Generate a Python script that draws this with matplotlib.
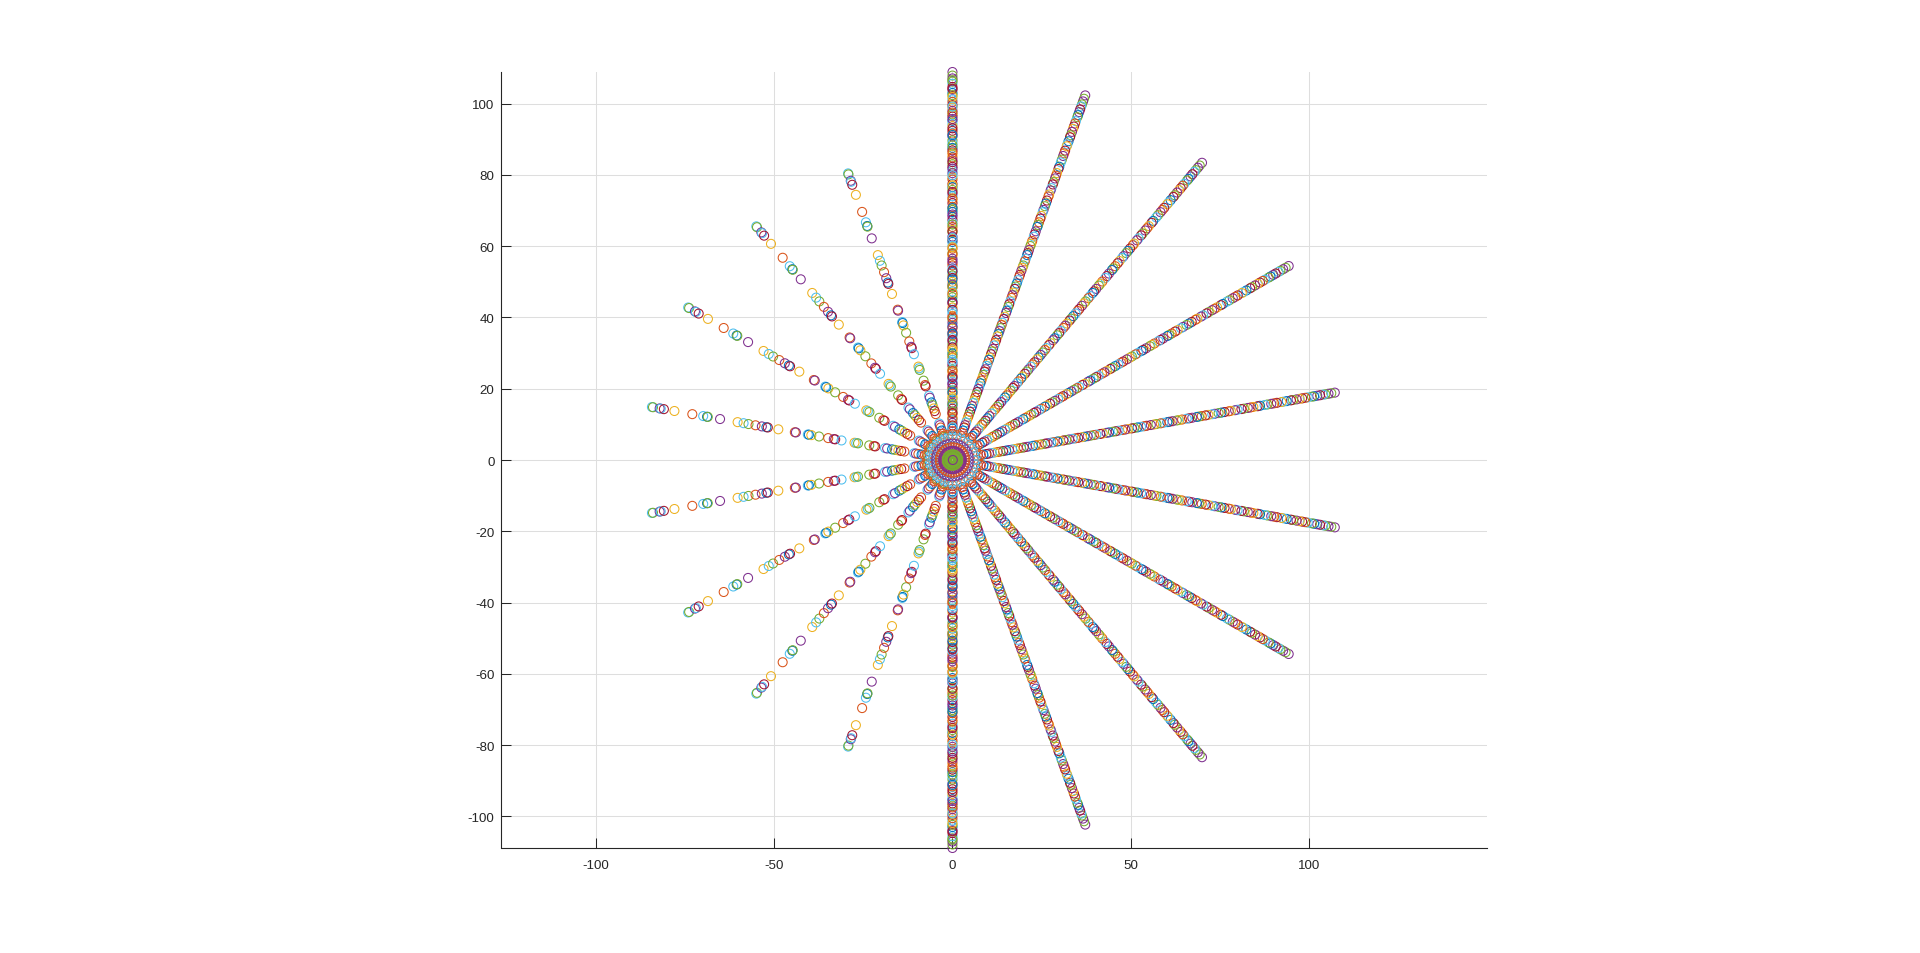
import numpy as np
import matplotlib
matplotlib.use("Agg")
import matplotlib.pyplot as plt

plt.rcParams['font.family'] = ['Liberation Sans', 'DejaVu Sans']
plt.rcParams['axes.unicode_minus'] = False

palette = ['#0072BD', '#D95319', '#EDB120', '#7E2F8E', '#77AC30', '#4DBEEE', '#A2142F']

right_angles = [10, 30, 50, 70, -10, -30, -50, -70]
left_angles = [110, 130, 150, 170, 190, 210, 230, 250]
vertical_angles = [90, -90]
hub_angles = [0, 10, 20, 30, 40, 50, 60, 70, 80, 90, 100, 110, 120, 130, 140, 150, 160, 170,
              180, 190, 200, 210, 220, 230, 240, 250, 260, 270, 280, 290, 300, 310, 320, 330, 340, 350]

left_radii = [85.6, 85.3, 83.4, 83.1, 82.2, 79.2, 74.1, 71.0, 69.9, 69.7, 66.2, 61.2, 59.5, 58.1,
              56.1, 54.3, 53.0, 52.6, 49.6, 44.9, 44.6, 41.2, 40.9, 40.2, 38.0, 35.4, 33.8, 33.4,
              31.6, 27.9, 27.4, 26.9, 23.7, 22.4, 22.0, 19.2, 18.6, 17.2, 16.4, 15.4, 14.6, 13.7,
              10.9, 10.4, 9.7, 8.8, 7.8, 6.9, 5.5]
left_colors = [5, 4, 3, 5, 6, 2, 1, 5, 0, 4, 3, 2, 5, 4,
               1, 3, 0, 6, 2, 1, 3, 5, 0, 2, 4, 1, 3, 6,
               5, 2, 5, 4, 4, 1, 6, 5, 3, 0, 4, 2, 6, 1,
               5, 3, 1, 0, 1, 4, 5]

right_radii = [108.9, 107.9, 107.1, 106.2, 105.6, 104.7, 103.9, 103.0, 102.4, 101.2, 100.5, 99.6,
               98.9, 98.0, 97.0, 96.4, 95.2, 94.3, 93.7, 92.4, 91.6, 90.8, 89.7, 88.9, 87.6, 86.9,
               85.7, 84.9, 84.1, 83.0, 82.3, 81.2, 80.5, 79.3, 78.7, 77.5, 76.6, 75.8, 74.7, 74.0,
               72.9, 72.1, 71.0, 70.2, 69.6, 68.3, 67.4, 66.7, 65.4, 64.6, 63.9, 62.7, 61.8, 61.2,
               60.1, 59.3, 58.1, 57.4, 56.5, 55.3, 54.6, 53.7, 52.7, 51.8, 51.1, 50.0, 49.2, 48.4,
               47.3, 46.5, 45.7, 44.6, 43.9, 42.8, 42.1, 41.0, 40.3, 39.4, 38.5, 37.6, 36.9, 35.8,
               35.0, 34.2, 33.2, 32.4, 31.6, 30.6, 29.9, 28.8, 28.1, 27.1, 26.4, 25.4, 24.6, 23.7,
               22.9, 22.0, 21.2, 20.3, 19.5, 18.6, 17.7, 17.0, 16.1, 15.3, 14.4, 13.6, 12.9, 12.0,
               11.2, 10.4, 9.7, 8.8, 8.1]
right_colors = [3, 4, 3, 4, 5, 6, 3, 0, 4, 5, 1, 6, 2, 3, 4, 6, 0, 5, 2, 6, 1, 3, 4, 5, 0, 6,
                2, 1, 3, 4, 6, 5, 3, 2, 1, 6, 0, 4, 3, 5, 2, 6, 1, 4, 0, 3, 6, 5, 1, 2,
                4, 3, 6, 0, 5, 1, 4, 2, 3, 6, 1, 5, 0, 4, 6, 2, 3, 1, 5, 6, 4, 0, 3, 2,
                6, 5, 1, 4, 3, 0, 2, 6, 1, 5, 3, 4, 6, 2, 0, 1, 5, 3, 6, 4, 2, 1, 0, 5,
                3, 6, 4, 1, 2, 5, 3, 0, 6, 4, 1, 2, 5, 3, 6, 0, 1]

vertical_radii = [106.6, 104.2, 101.9, 99.2, 97.5, 95.7, 93.1, 91.2, 88.3, 86.3, 83.6, 81.8, 79.9,
                  77.1, 75.2, 73.4, 70.7, 68.9, 66.1, 64.2, 62.3, 59.7, 57.8, 55.9, 53.1, 50.7,
                  48.8, 46.9, 44.2, 41.7, 39.9, 37.2, 35.4, 33.7, 31.1, 29.4, 27.6, 25.0, 23.3,
                  21.5, 19.0, 17.3, 15.7, 13.2, 11.6, 9.2]
vertical_colors = [4, 6, 2, 5, 1, 3, 6, 0, 4, 1, 6, 3, 5, 2, 6, 1, 0, 3, 4, 6, 5, 2, 1, 3, 6, 0,
                   4, 2, 6, 5, 1, 3, 0, 6, 2, 4, 5, 1, 6, 3, 0, 2, 4, 6, 1, 5]

hub_radii = [7.2, 6.2, 4.6, 3.6, 2.6, 1.6, 0.8]
hub_colors = [1, 5, 3, 1, 3, 4, 4]
center_radius = [0.1]
center_color = [3]

x_ticks = [-100, -50, 0, 50, 100]
y_ticks = [-100, -80, -60, -40, -20, 0, 20, 40, 60, 80, 100]

W, H = 1920, 954
fig = plt.figure(figsize=(W / 100, H / 100), dpi=100, facecolor='white')
L, R, T, B = 501.5, 1486.5, 73.0, 849.0
ax = fig.add_axes([L / W, 1 - B / H, (R - L) / W, (B - T) / H])


def draw(radii, colors, angles, lw=0.75):
    for ang in angles:
        t = np.deg2rad(ang)
        x = np.array(radii) * np.cos(t)
        y = np.array(radii) * np.sin(t)
        ax.scatter(x, y, s=42, facecolors='none',
                   edgecolors=[palette[c] for c in colors],
                   linewidths=lw, clip_on=False, zorder=3)


draw(left_radii, left_colors, left_angles)
draw(right_radii, right_colors, right_angles)
draw(right_radii, right_colors, vertical_angles)
draw(vertical_radii, vertical_colors, vertical_angles)
for r, c in zip(hub_radii, hub_colors):
    draw([r], [c], hub_angles, lw=0.55)
draw(center_radius, center_color, [0])

ax.set_xlim(-126.5, 149.8)
ax.set_ylim(-108.9, 108.9)
ax.set_xticks(x_ticks)
ax.set_yticks(y_ticks)
ax.grid(True, color='#DEDEDE', linewidth=0.75)
ax.set_axisbelow(True)
for s in ['top', 'right']:
    ax.spines[s].set_visible(False)
for s in ['left', 'bottom']:
    ax.spines[s].set_color('#262626')
    ax.spines[s].set_linewidth(0.8)
ax.tick_params(axis='both', direction='in', length=7, width=0.75, color='#262626',
               labelcolor='#262626', labelsize=9.6, pad=5)
ax.tick_params(axis='x', pad=8)

fig.savefig('out.png', dpi=100)
